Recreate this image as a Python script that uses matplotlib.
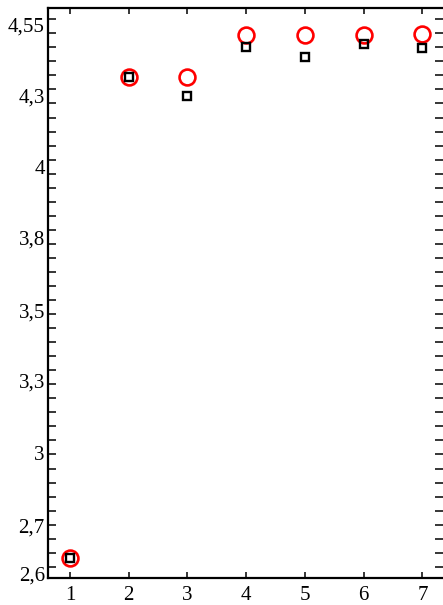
import numpy as np
import matplotlib
matplotlib.use("Agg")
import matplotlib.pyplot as plt

# values
x_vals = [1, 2, 3, 4, 5, 6, 7]
circle_vals = [2.633, 4.343, 4.343, 4.494, 4.494, 4.494, 4.497]
square_vals = [2.633, 4.343, 4.278, 4.452, 4.415, 4.462, 4.446]

# y tick labels as printed, and where they sit on the axis
ytick_pos = [4.530, 4.280, 4.024, 3.771, 3.514, 3.265, 3.005, 2.748, 2.577]
ytick_labels = ["4,55", "4,3", "4", "3,8", "3,5", "3,3", "3", "2,7", "2,6"]
xtick_labels = ["1", "2", "3", "4", "5", "6", "7"]

plt.rcParams["font.family"] = ["Liberation Serif", "DejaVu Serif"]

fig = plt.figure(figsize=(4.43, 6.05), dpi=100)
ax = fig.add_axes([0.109, 0.0446, 0.891, 0.9417])

ax.plot(x_vals, circle_vals, linestyle="none", marker="o", markersize=11.4,
        markerfacecolor="none", markeredgecolor="#ff0000", markeredgewidth=1.9)
ax.plot(x_vals, square_vals, linestyle="none", marker="s", markersize=5.8,
        markerfacecolor="none", markeredgecolor="black", markeredgewidth=1.7)

ax.set_xlim(0.632, 7.35)
ax.set_ylim(2.56, 4.589)

ax.set_xticks(x_vals)
ax.set_xticklabels(xtick_labels)
ax.set_yticks(ytick_pos)
ax.set_yticklabels(ytick_labels)
ax.set_yticks(np.arange(2.6, 4.5501, 0.05), minor=True)
ax.yaxis.remove_overlapping_locs = False

for side in ("left", "top", "bottom"):
    ax.spines[side].set_linewidth(1.6)
ax.spines["right"].set_visible(False)

ax.tick_params(axis="x", which="major", direction="in", length=4.5, width=1.1,
               top=True, bottom=True, labelsize=15, pad=6)
ax.tick_params(axis="y", which="major", length=0, labelsize=15, pad=2.5)
ax.tick_params(axis="y", which="minor", direction="in", length=5.5, width=1.1,
               left=True, right=True)

fig.savefig("out.png", dpi=100)
